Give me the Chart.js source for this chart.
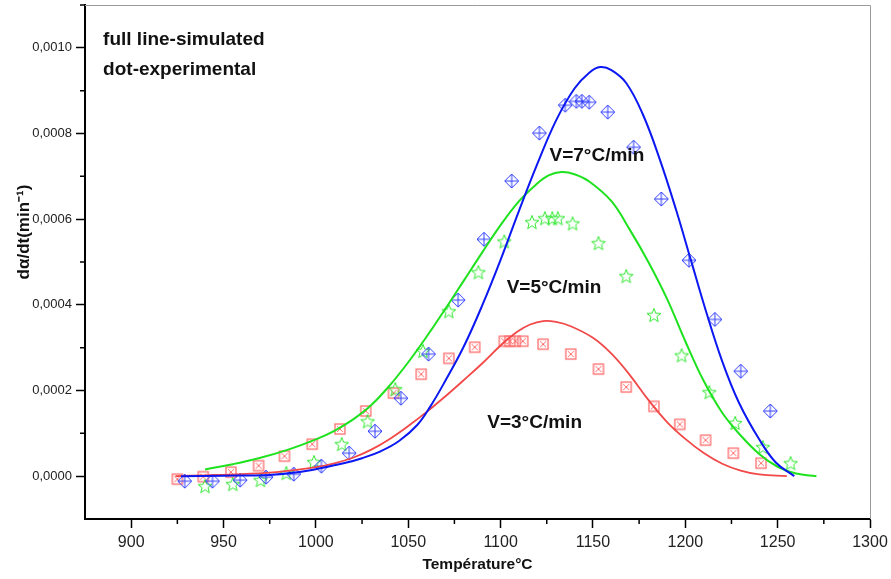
<!DOCTYPE html>
<html>
<head>
<meta charset="utf-8">
<script src="https://cdn.jsdelivr.net/npm/chart.js@4.4.1/dist/chart.umd.min.js"></script>
<style>
html, body { margin: 0; padding: 0; background: #fff; }
</style>
</head>
<body>
<canvas id="kinChart" width="891" height="579"></canvas>
<script>
// simulated curves (full lines)
const simTemp7 = [927, 950, 975, 990, 1003, 1015, 1025, 1035, 1045, 1055, 1062, 1070, 1080, 1090, 1100, 1110, 1120, 1130, 1140, 1148, 1154, 1160, 1168, 1177, 1186, 1195, 1203, 1211, 1220, 1229, 1240, 1249, 1259];
const simRate7 = [0, 0.000001, 0.000003, 0.000009, 0.000019, 0.00003, 0.000042, 0.000058, 0.000082, 0.00012, 0.000163, 0.000222, 0.000302, 0.000398, 0.000505, 0.00062, 0.00073, 0.00083, 0.000905, 0.000942, 0.000955, 0.000948, 0.000918, 0.000845, 0.000742, 0.000622, 0.000505, 0.000388, 0.000268, 0.000172, 0.000086, 0.000032, 0];

const simTemp5 = [940, 955, 970, 985, 1000, 1010, 1020, 1030, 1040, 1050, 1060, 1070, 1080, 1090, 1100, 1110, 1119, 1126, 1133, 1140, 1148, 1160, 1170, 1180, 1190, 1200, 1210, 1220, 1230, 1240, 1250, 1260, 1271];
const simRate5 = [0.0000156, 0.000028, 0.000043, 0.000062, 0.000086, 0.000106, 0.000132, 0.000166, 0.000212, 0.000266, 0.000326, 0.00039, 0.000456, 0.000522, 0.000586, 0.000642, 0.00068, 0.000702, 0.00071, 0.000705, 0.000688, 0.000642, 0.000575, 0.0005, 0.000415, 0.000315, 0.000222, 0.000148, 0.000095, 0.000052, 0.000022, 0.000006, 0];

const simTemp3 = [924, 940, 960, 980, 1000, 1010, 1020, 1030, 1040, 1050, 1060, 1070, 1080, 1090, 1100, 1109, 1116, 1123, 1130, 1138, 1150, 1160, 1170, 1180, 1190, 1200, 1210, 1220, 1230, 1240, 1255];
const simRate3 = [0, 0.000002, 0.000005, 0.00001, 0.000021, 0.00003, 0.000043, 0.000062, 0.000087, 0.000117, 0.00015, 0.000186, 0.000224, 0.000263, 0.000305, 0.000337, 0.000354, 0.000362, 0.00036, 0.00035, 0.000323, 0.000286, 0.000236, 0.000178, 0.000127, 0.000087, 0.000054, 0.000029, 0.000013, 0.000004, 0];

// experimental points (dots)
const expTemp7 = [929, 944, 959, 973, 988, 1003, 1018, 1032, 1046, 1061, 1077, 1091, 1106, 1121, 1135, 1141, 1144, 1148, 1158, 1172, 1187, 1202, 1216, 1230, 1246];
const expRate7 = [-0.0000117, -0.0000117, -0.0000093, -0.0000023, 0.0000047, 0.0000233, 0.0000537, 0.000105, 0.000182, 0.000285, 0.000411, 0.000553, 0.000689, 0.000801, 0.000866, 0.000875, 0.000875, 0.000873, 0.00085, 0.000768, 0.000647, 0.000504, 0.000366, 0.000245, 0.000152];

const expTemp5 = [940, 955, 970, 984, 999, 1014, 1028, 1043, 1058, 1072, 1088, 1102, 1117, 1124, 1128, 1131, 1139, 1153, 1168, 1183, 1198, 1213, 1227, 1242, 1257];
const expRate5 = [-0.0000233, -0.0000187, -0.0000093, 0.000007, 0.0000327, 0.0000747, 0.000128, 0.000203, 0.000292, 0.000385, 0.000476, 0.000548, 0.000593, 0.000602, 0.000602, 0.000602, 0.00059, 0.000544, 0.000467, 0.000376, 0.000282, 0.000196, 0.000124, 0.0000677, 0.0000303];

const expTemp3 = [925, 939, 954, 969, 983, 998, 1013, 1027, 1042, 1057, 1072, 1086, 1102, 1105, 1108, 1112, 1123, 1138, 1153, 1168, 1183, 1197, 1211, 1226, 1241];
const expRate3 = [-0.000007, -0.0000012, 0.0000093, 0.0000245, 0.0000467, 0.0000747, 0.00011, 0.000152, 0.000194, 0.000238, 0.000275, 0.000301, 0.000315, 0.000315, 0.000315, 0.000315, 0.000308, 0.000285, 0.00025, 0.000208, 0.000163, 0.000121, 0.000084, 0.0000537, 0.0000303];

// axis ticks
const xTicks = [900, 925, 950, 975, 1000, 1025, 1050, 1075, 1100, 1125, 1150, 1175, 1200, 1225, 1250, 1275, 1300];
const yTicks = [0, 0.0001, 0.0002, 0.0003, 0.0004, 0.0005, 0.0006, 0.0007, 0.0008, 0.0009, 0.001, 0.0011];

const FONT = "'Liberation Sans', Arial, sans-serif";

function pts(xs, ys) {
    return xs.map((x, i) => ({ x: x, y: ys[i] }));
}

function makeMarker(size, draw) {
    const c = document.createElement('canvas');
    c.width = size;
    c.height = size;
    const g = c.getContext('2d');
    draw(g, size / 2);
    return c;
}

// diamond with a plus inside
const diamondMark = makeMarker(16, (g, m) => {
    g.strokeStyle = '#2f3cff';
    g.lineWidth = 1;
    g.beginPath();
    g.moveTo(m, m - 7); g.lineTo(m + 7, m); g.lineTo(m, m + 7); g.lineTo(m - 7, m); g.closePath();
    g.moveTo(m, m - 7); g.lineTo(m, m + 7);
    g.moveTo(m - 7, m); g.lineTo(m + 7, m);
    g.stroke();
});

// square with an x inside
const squareMark = makeMarker(14, (g, m) => {
    g.strokeStyle = '#ff6a6a';
    g.lineWidth = 1.3;
    g.strokeRect(m - 5, m - 5, 10, 10);
    g.lineWidth = 1;
    g.beginPath();
    g.moveTo(m - 3, m - 3); g.lineTo(m + 3, m + 3);
    g.moveTo(m + 3, m - 3); g.lineTo(m - 3, m + 3);
    g.stroke();
});

// open five-point star
const starMark = makeMarker(18, (g, m) => {
    g.strokeStyle = '#2fe82f';
    g.lineWidth = 1;
    g.beginPath();
    for (let i = 0; i < 10; i++) {
        const r = i % 2 ? 3.1 : 7.3;
        const a = -Math.PI / 2 + i * Math.PI / 5;
        const px = m + r * Math.cos(a), py = m + 0.6 + r * Math.sin(a);
        if (i) g.lineTo(px, py); else g.moveTo(px, py);
    }
    g.closePath();
    g.stroke();
});

function lineSet(xs, ys, color, w) {
    return {
        data: pts(xs, ys), showLine: true, borderColor: color, borderWidth: w,
        pointRadius: 0, tension: 0.4, fill: false
    };
}

function dotSet(xs, ys, mark) {
    return { data: pts(xs, ys), showLine: false, pointStyle: mark, pointRadius: 7 };
}

const decorPlugin = {
    id: 'decor',
    afterDraw(chart) {
        const ctx = chart.ctx;
        const xs = chart.scales.x, ys = chart.scales.y;
        const a = chart.chartArea;
        ctx.save();
        // minor ticks
        ctx.strokeStyle = '#000';
        ctx.lineWidth = 1.5;
        ctx.beginPath();
        xTicks.forEach(v => {
            if (v % 50 !== 0) {
                const px = xs.getPixelForValue(v);
                ctx.moveTo(px, a.bottom); ctx.lineTo(px, a.bottom + 5);
            }
        });
        yTicks.forEach(v => {
            if (Math.round(v * 1e4) % 2 !== 0) {
                const py = ys.getPixelForValue(v);
                ctx.moveTo(a.left, py); ctx.lineTo(a.left - 5, py);
            }
        });
        ctx.stroke();
        // frame top and right
        ctx.strokeStyle = '#9a9a9a';
        ctx.lineWidth = 1;
        ctx.beginPath();
        ctx.moveTo(a.left, a.top + 0.5);
        ctx.lineTo(a.right + 0.5, a.top + 0.5);
        ctx.lineTo(a.right + 0.5, a.bottom);
        ctx.stroke();
        // y axis title
        ctx.fillStyle = '#111';
        ctx.save();
        ctx.translate(24, ys.getPixelForValue(0.00057));
        ctx.rotate(-Math.PI / 2);
        ctx.font = 'bold 17px ' + FONT;
        ctx.textAlign = 'center';
        ctx.textBaseline = 'middle';
        ctx.fillText('dα/dt(min⁻¹)', 0, 0);
        ctx.restore();
        // texts
        ctx.font = 'bold 19px ' + FONT;
        ctx.textAlign = 'left';
        ctx.textBaseline = 'middle';
        ctx.fillText('full line-simulated', xs.getPixelForValue(884.8), ys.getPixelForValue(0.00102));
        ctx.fillText('dot-experimental', xs.getPixelForValue(884.8), ys.getPixelForValue(0.000948));
        ctx.fillText('V=7°C/min', xs.getPixelForValue(1126.5), ys.getPixelForValue(0.000749));
        ctx.fillText('V=5°C/min', xs.getPixelForValue(1103.3), ys.getPixelForValue(0.000441));
        ctx.fillText('V=3°C/min', xs.getPixelForValue(1092.8), ys.getPixelForValue(0.000124));
        ctx.restore();
    }
};

new Chart(document.getElementById('kinChart'), {
    type: 'scatter',
    data: {
        datasets: [
            lineSet(simTemp7, simRate7, '#0b18f2', 2),
            lineSet(simTemp5, simRate5, '#1ee21e', 2),
            lineSet(simTemp3, simRate3, '#f24848', 1.8),
            dotSet(expTemp7, expRate7, diamondMark),
            dotSet(expTemp5, expRate5, starMark),
            dotSet(expTemp3, expRate3, squareMark)
        ]
    },
    options: {
        responsive: false,
        animation: false,
        events: [],
        layout: { autoPadding: false, padding: { top: 5, right: 21, left: 0, bottom: 0 } },
        plugins: { legend: { display: false }, tooltip: { enabled: false } },
        scales: {
            x: {
                type: 'linear', min: 875, max: 1300,
                afterBuildTicks: s => { s.ticks = xTicks.map(v => ({ value: v })); },
                afterFit: s => { s.height = 60; s.paddingLeft = 0; s.paddingRight = 0; },
                grid: {
                    drawOnChartArea: false, tickLength: 9, tickWidth: 1.5,
                    tickColor: c => (c.tick && c.tick.value % 50 === 0) ? '#000' : 'rgba(0,0,0,0)'
                },
                border: { color: '#000', width: 2 },
                ticks: {
                    maxRotation: 0, autoSkip: false, padding: 5, color: '#222',
                    font: { family: FONT, size: 16 },
                    callback: v => (v % 50 === 0 ? String(v) : '')
                },
                title: {
                    display: true, text: 'Température°C', color: '#111',
                    font: { family: FONT, size: 15.5, weight: 'bold' },
                    padding: { top: 0, bottom: 5 }
                }
            },
            y: {
                type: 'linear', min: -0.0001, max: 0.0011,
                afterBuildTicks: s => { s.ticks = yTicks.map(v => ({ value: v })); },
                afterFit: s => { s.width = 85; s.paddingTop = 0; s.paddingBottom = 0; },
                grid: {
                    drawOnChartArea: false, tickLength: 9, tickWidth: 1.5,
                    tickColor: c => (c.tick && Math.round(c.tick.value * 1e4) % 2 === 0) ? '#000' : 'rgba(0,0,0,0)'
                },
                border: { color: '#000', width: 2 },
                ticks: {
                    autoSkip: false, padding: 4, color: '#222',
                    font: { family: FONT, size: 13 },
                    callback: v => (Math.round(v * 1e4) % 2 === 0 ? v.toFixed(4).replace('.', ',') : '')
                }
            }
        }
    },
    plugins: [decorPlugin]
});
</script>
</body>
</html>
